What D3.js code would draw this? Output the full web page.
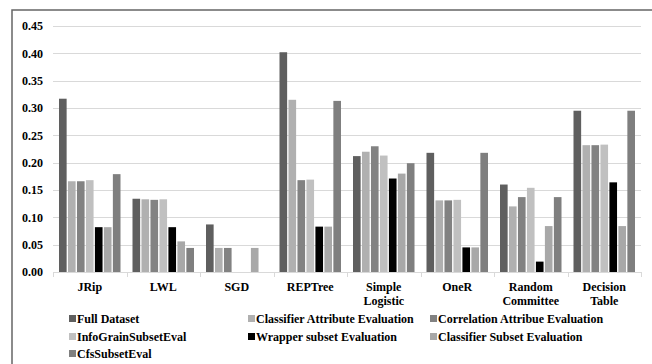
<!DOCTYPE html>
<html>
<head>
<meta charset="utf-8">
<script src="https://cdn.jsdelivr.net/npm/d3@7"></script>
<style>
  body { margin: 0; background: #fff; }
</style>
</head>
<body>
<svg id="chart"></svg>
<script>
const categories = ["JRip", "LWL", "SGD", "REPTree", "Simple Logistic", "OneR", "Random Committee", "Decision Table"];
const seriesNames = ["Full Dataset", "Classifier Attribute Evaluation", "Correlation Attribue Evaluation",
  "InfoGrainSubsetEval", "Wrapper subset Evaluation", "Classifier Subset Evaluation", "CfsSubsetEval"];

const fullDataset      = [0.317, 0.134, 0.087, 0.402, 0.212, 0.218, 0.160, 0.295];
const classifierAttr   = [0.166, 0.133, 0.044, 0.315, 0.220, 0.131, 0.120, 0.232];
const correlationAttr  = [0.166, 0.132, 0.044, 0.168, 0.230, 0.131, 0.137, 0.232];
const infoGrain        = [0.168, 0.133, 0,     0.169, 0.213, 0.132, 0.154, 0.233];
const wrapperSubset    = [0.082, 0.082, 0,     0.083, 0.171, 0.045, 0.019, 0.164];
const classifierSubset = [0.082, 0.056, 0.044, 0.083, 0.180, 0.045, 0.084, 0.084];
const cfsSubset        = [0.179, 0.044, 0,     0.313, 0.199, 0.218, 0.137, 0.295];

const yTicks = [0, 0.05, 0.10, 0.15, 0.20, 0.25, 0.30, 0.35, 0.40, 0.45];

const series = [fullDataset, classifierAttr, correlationAttr, infoGrain, wrapperSubset, classifierSubset, cfsSubset];
const colors = ["#5f5f5f", "#b0b0b0", "#828282", "#c0c0c0", "#000000", "#a8a8a8", "#7f7f7f"];

const width = 652, height = 364;
const margin = {top: 26, right: 11, bottom: 92, left: 53};
const innerW = width - margin.left - margin.right;
const innerH = height - margin.top - margin.bottom;
const font = "'Liberation Serif', 'Times New Roman', serif";

const svg = d3.select("#chart")
  .attr("width", width).attr("height", height)
  .attr("font-family", font)
  .attr("font-weight", "bold");

// outer frame (cut off at right and bottom)
svg.append("path")
  .attr("d", `M12,${height + 2} L12,10 L${width + 2},10`)
  .attr("fill", "none")
  .attr("stroke", "#666")
  .attr("stroke-width", 1.5);

const g = svg.append("g").attr("transform", `translate(${margin.left},${margin.top})`);

const x0 = d3.scaleBand().domain(categories).range([0, innerW]);
const x1 = d3.scaleBand().domain(d3.range(series.length)).range([6, x0.bandwidth() - 6]).paddingInner(0.15);
const y = d3.scaleLinear().domain([0, 0.45]).range([innerH, 0]);

// gridlines
g.append("g")
  .selectAll("line")
  .data(yTicks.slice(1))
  .join("line")
  .attr("x1", 0).attr("x2", innerW)
  .attr("y1", d => Math.round(y(d)) + 0.5).attr("y2", d => Math.round(y(d)) + 0.5)
  .attr("stroke", "#d9d9d9");

// y labels
g.append("g")
  .selectAll("text")
  .data(yTicks)
  .join("text")
  .attr("x", -10)
  .attr("y", d => y(d))
  .attr("dy", "0.35em")
  .attr("text-anchor", "end")
  .attr("font-size", "12px")
  .text(d => d3.format(".2f")(d));

// bars
const groups = g.append("g")
  .selectAll("g")
  .data(categories)
  .join("g")
  .attr("transform", d => `translate(${x0(d)},0)`);

groups.selectAll("rect")
  .data((d, i) => series.map((s, k) => ({k, v: s[i]})).filter(e => e.v > 0))
  .join("rect")
  .attr("x", d => x1(d.k))
  .attr("width", x1.bandwidth())
  .attr("y", d => y(d.v))
  .attr("height", d => innerH - y(d.v))
  .attr("fill", d => colors[d.k]);

// x axis line and category ticks
g.append("line")
  .attr("x1", 0).attr("x2", innerW)
  .attr("y1", innerH + 0.5).attr("y2", innerH + 0.5)
  .attr("stroke", "#d9d9d9");
g.append("g")
  .selectAll("line")
  .data(d3.range(categories.length + 1))
  .join("line")
  .attr("x1", i => Math.round(i * x0.step()) + 0.5)
  .attr("x2", i => Math.round(i * x0.step()) + 0.5)
  .attr("y1", innerH).attr("y2", innerH + 5)
  .attr("stroke", "#d9d9d9");

// x labels, wrapped on spaces
g.append("g")
  .selectAll("text")
  .data(categories)
  .join("text")
  .attr("y", innerH + 19)
  .attr("text-anchor", "middle")
  .attr("font-size", "12px")
  .each(function(d) {
    d3.select(this).selectAll("tspan")
      .data(d.split(" "))
      .join("tspan")
      .attr("x", x0(d) + x0.bandwidth() / 2)
      .attr("dy", (w, i) => i === 0 ? 0 : 14)
      .text(w => w);
  });

// legend
const legendX = [69, 248, 430];
const legendY = [319, 337, 354];
const legend = svg.append("g")
  .selectAll("g")
  .data(seriesNames)
  .join("g")
  .attr("transform", (d, i) => `translate(${legendX[i % 3]},${legendY[Math.floor(i / 3)]})`);
legend.append("rect")
  .attr("x", 0).attr("y", -4)
  .attr("width", 7).attr("height", 7)
  .attr("fill", (d, i) => colors[i]);
legend.append("text")
  .attr("x", 8)
  .attr("y", 0)
  .attr("dy", "0.35em")
  .attr("font-size", "12px")
  .text(d => d);
</script>
</body>
</html>
